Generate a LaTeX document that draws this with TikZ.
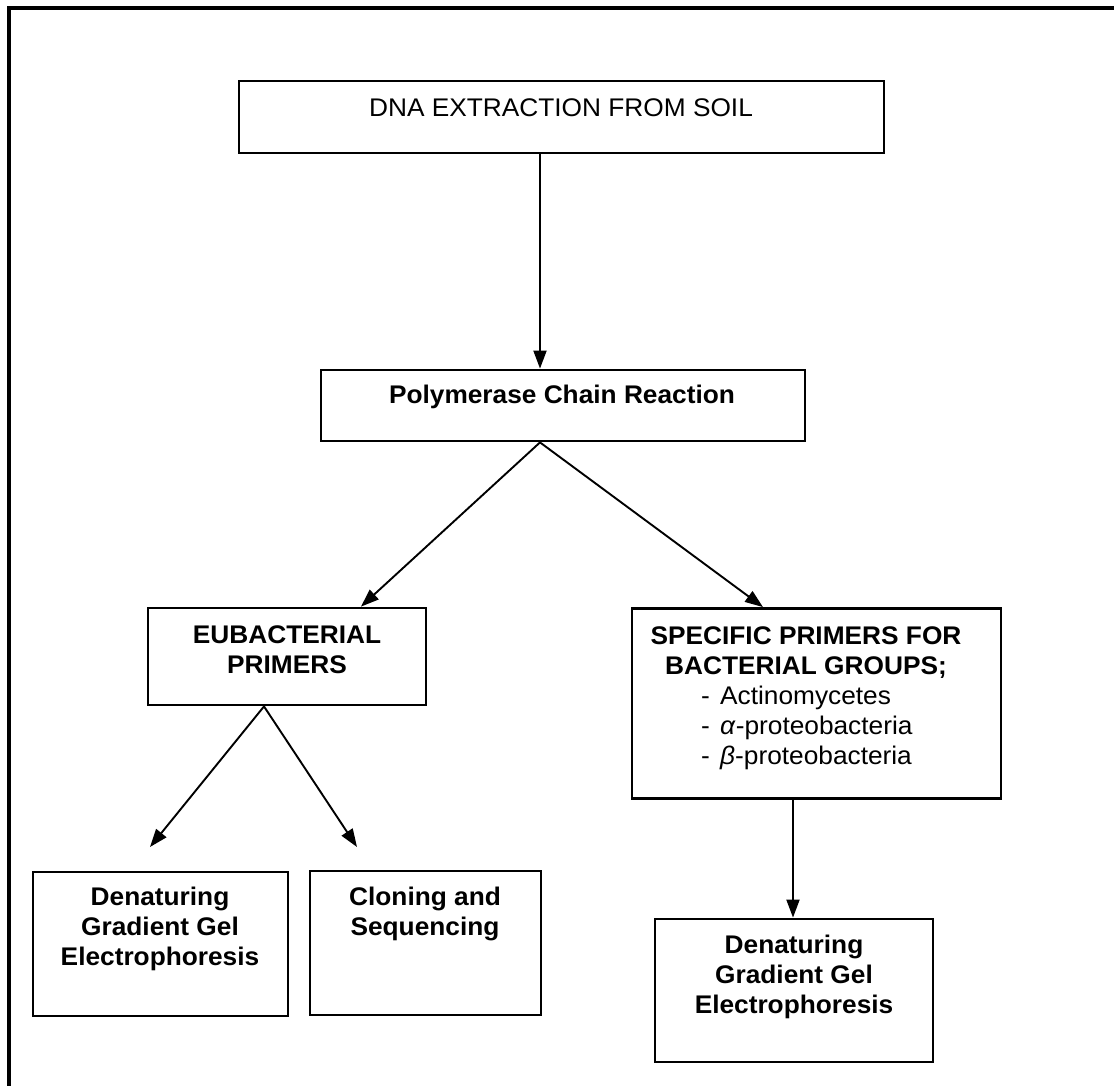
\documentclass[tikz,border=0pt]{standalone}
\usepackage{fontspec}
\setmainfont[FakeStretch=1.03]{Liberation Sans}
\usetikzlibrary{arrows.meta,calc}
\tikzset{
  box/.style={draw, line width=2.8pt, inner sep=0pt, anchor=center},
  txt/.style={inner sep=0pt, align=center, font=\fontsize{25.5pt}{30pt}\selectfont},
  btxt/.style={txt, font=\fontsize{25.5pt}{30pt}\selectfont\bfseries},
  arr/.style={line width=1.9pt, -{Triangle[length=18pt,width=13pt]}},
  frame/.style={line width=3.5pt}
}
\begin{document}
\begin{tikzpicture}[x=1pt,y=-1pt]
\useasboundingbox (0,0) rectangle (1114,1086);
\fill[white] (0,0) rectangle (1114,1086);
% frame
\draw[frame] (9,1086) -- (9,8) -- (1114,8);
% boxes
\node[box, minimum width=645pt, minimum height=72pt] (dna) at (561.5,117) {};
\node[txt] (dnat) at (561,108) {DNA EXTRACTION FROM SOIL};
\node[box, minimum width=484pt, minimum height=71pt] (pcr) at (563,405.5) {};
\node[btxt] (pcrt) at (562,397) {Polymerase Chain Reaction};
\node[box, minimum width=278pt, minimum height=97pt] (eub) at (287,656.5) {};
\node[btxt] (eubt) at (287,650) {EUBACTERIAL\\PRIMERS};
\node[box, minimum width=369pt, minimum height=190pt] (spec) at (816.5,703.5) {};
\node[btxt] (spect) at (806,653) {SPECIFIC PRIMERS FOR\\BACTERIAL GROUPS;};
\node[txt, align=left, anchor=west] (specl) at (701,728) {\makebox[19pt][l]{-}Actinomycetes\\\makebox[19pt][l]{-}\textit{α}-proteobacteria\\\makebox[19pt][l]{-}\textit{β}-proteobacteria};
\node[box, minimum width=255pt, minimum height=144pt] (dgl) at (160.5,944) {};
\node[btxt] (dglt) at (160,929) {Denaturing\\Gradient Gel\\Electrophoresis};
\node[box, minimum width=231pt, minimum height=144pt] (clo) at (425.5,943) {};
\node[btxt] (clot) at (425,914) {Cloning and\\Sequencing};
\node[box, minimum width=278pt, minimum height=143pt] (dgr) at (794,990.5) {};
\node[btxt] (dgrt) at (794,977) {Denaturing\\Gradient Gel\\Electrophoresis};
% free ends
\coordinate (e1) at (150,847);
\coordinate (e2) at (357,847);
% connectors
\draw[arr] ($(dna.south)+(-21.5,0)$) -- ($(pcr.north)+(-23,0)$);
\draw[arr] ($(pcr.south)+(-23,0)$) -- ($(eub.north)+(74,0)$);
\draw[arr] ($(pcr.south)+(-23,0)$) -- ($(spec.north)+(-53.5,0)$);
\draw[arr] ($(eub.south)+(-23,0)$) -- (e1);
\draw[arr] ($(eub.south)+(-23,0)$) -- (e2);
\draw[arr] ($(spec.south)+(-23.5,0)$) -- ($(dgr.north)+(-1,0)$);
\end{tikzpicture}
\end{document}
